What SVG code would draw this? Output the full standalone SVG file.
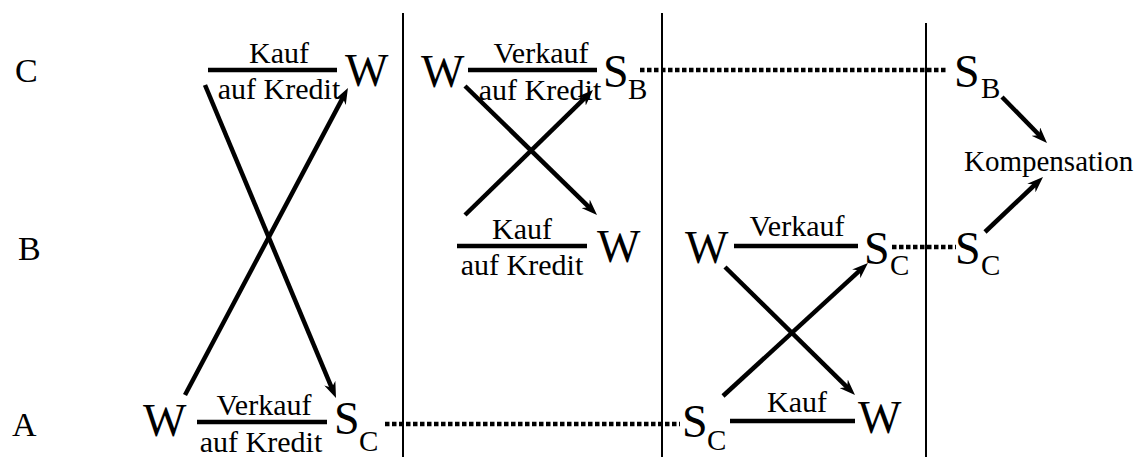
<svg xmlns="http://www.w3.org/2000/svg" width="1148" height="457" viewBox="0 0 1148 457" font-family="Liberation Serif, Tinos, Times New Roman, DejaVu Serif, serif">
<style>
text{font-family:"Liberation Serif",Tinos,"Times New Roman","DejaVu Serif",serif;fill:#000}
.row{font-size:34px}
.big{font-size:46px}
.sub{font-size:29px}
.lbl{font-size:30px;text-anchor:middle}
.komp{font-size:29px}
.bar{stroke:#000;stroke-width:4.5;fill:none}
.arr{stroke:#000;stroke-width:4.5;fill:none;marker-end:url(#ah)}
.dot{stroke:#000;stroke-width:4.5;stroke-dasharray:4.5 2.5;fill:none}
.sep{stroke:#000;stroke-width:2;fill:none}
</style>
<defs>
<marker id="ah" viewBox="0 0 16 12" refX="8" refY="6" markerWidth="16" markerHeight="12" markerUnits="userSpaceOnUse" orient="auto">
<path d="M0,0 L16,6 L0,12 L5,6 z" fill="#000"/>
</marker>
</defs>
<rect width="1148" height="457" fill="#fff"/>
<g id="separators">
<line class="sep" x1="403" y1="13" x2="403" y2="457"/>
<line class="sep" x1="662" y1="13" x2="662" y2="457"/>
<line class="sep" x1="926" y1="23" x2="926" y2="457"/>
</g>
<g id="row-labels">
<text class="row" x="15" y="82">C</text>
<text class="row" x="18" y="260">B</text>
<text class="row" x="12" y="436">A</text>
</g>
<g id="c-col1">
<text class="lbl" x="279" y="63">Kauf</text>
<line class="bar" x1="208" y1="70" x2="337" y2="70"/>
<text class="lbl" x="279" y="99">auf Kredit</text>
<text class="big" x="345" y="86">W</text>
</g>
<g id="a-col1">
<text class="big" x="143" y="436">W</text>
<text class="lbl" x="264" y="415">Verkauf</text>
<line class="bar" x1="197" y1="422" x2="327" y2="422"/>
<text class="lbl" x="261" y="452">auf Kredit</text>
<text class="big" x="334" y="434">S<tspan class="sub" x="359" y="451">C</tspan></text>
</g>
<g id="c-col2">
<text class="big" x="421" y="87">W</text>
<text class="lbl" x="541" y="63">Verkauf</text>
<line class="bar" x1="468" y1="70" x2="597" y2="70"/>
<text class="lbl" x="540" y="100">auf Kredit</text>
<text class="big" x="603" y="87">S<tspan class="sub" x="628" y="99">B</tspan></text>
</g>
<g id="b-col2">
<text class="lbl" x="522" y="239">Kauf</text>
<line class="bar" x1="457" y1="246" x2="587" y2="246"/>
<text class="lbl" x="522" y="275">auf Kredit</text>
<text class="big" x="597" y="262">W</text>
</g>
<g id="b-col3">
<text class="big" x="685" y="263">W</text>
<text class="lbl" x="797" y="236">Verkauf</text>
<line class="bar" x1="734" y1="246" x2="858" y2="246"/>
<text class="big" x="864" y="264">S<tspan class="sub" x="890" y="275">C</tspan></text>
</g>
<g id="a-col3">
<text class="big" x="682" y="437">S<tspan class="sub" x="707" y="450">C</tspan></text>
<text class="lbl" x="797" y="412">Kauf</text>
<line class="bar" x1="730" y1="421" x2="855" y2="421"/>
<text class="big" x="858" y="433">W</text>
</g>
<g id="col4">
<text class="big" x="954" y="87">S<tspan class="sub" x="981" y="98">B</tspan></text>
<text class="big" x="955" y="264">S<tspan class="sub" x="981" y="275">C</tspan></text>
<text class="komp" x="964" y="171">Kompensation</text>
</g>
<g id="connectors">
<line class="dot" x1="640" y1="70" x2="947" y2="70"/>
<line class="dot" x1="385" y1="424" x2="680" y2="424"/>
<line class="dot" x1="892" y1="247" x2="956" y2="247"/>
<line class="arr" x1="185" y1="395" x2="344.2" y2="95.1"/>
<line class="arr" x1="205" y1="85" x2="332.9" y2="390.6"/>
<line class="arr" x1="465" y1="86" x2="591.3" y2="209.4"/>
<line class="arr" x1="465" y1="215" x2="587.3" y2="95.6"/>
<line class="arr" x1="723" y1="396" x2="862.1" y2="268.4"/>
<line class="arr" x1="725" y1="267" x2="849.3" y2="389.4"/>
<line class="arr" x1="1002" y1="97" x2="1041.4" y2="137.3"/>
<line class="arr" x1="985" y1="232" x2="1037.2" y2="182.5"/>
</g>
</svg>
